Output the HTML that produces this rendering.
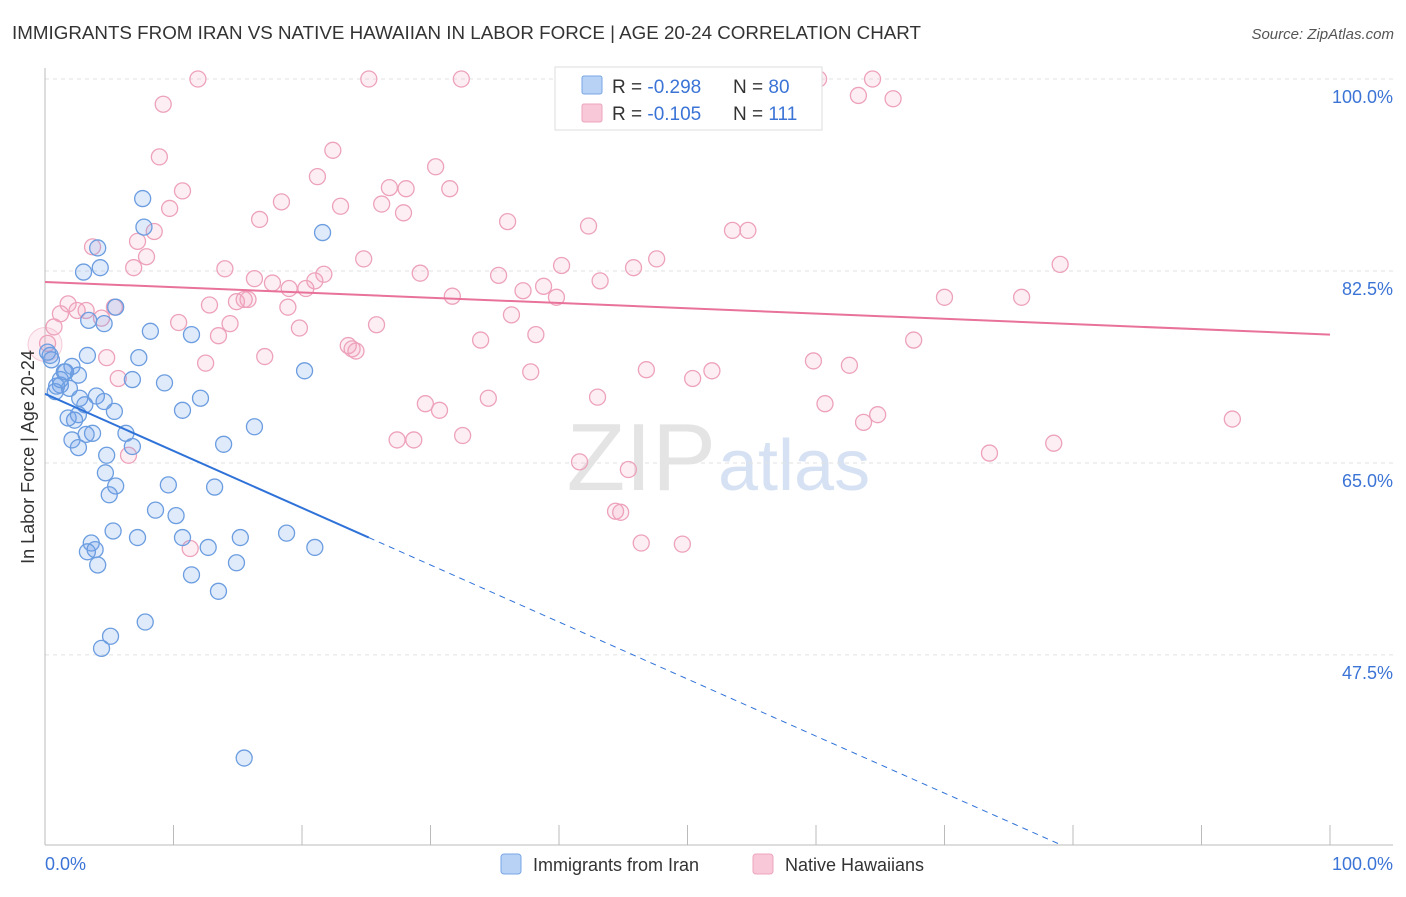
<!DOCTYPE html>
<html><head><meta charset="utf-8"><style>
body{margin:0;background:#fff;font-family:"Liberation Sans",sans-serif;}
svg text{font-family:"Liberation Sans",sans-serif;}
</style></head><body>
<svg id="chart" width="1406" height="892" xmlns="http://www.w3.org/2000/svg">
<text x="12" y="39" font-size="18" fill="#333" textLength="909" lengthAdjust="spacingAndGlyphs">IMMIGRANTS FROM IRAN VS NATIVE HAWAIIAN IN LABOR FORCE | AGE 20-24 CORRELATION CHART</text>
<text x="1394" y="39" font-size="15" fill="#555" font-style="italic" text-anchor="end">Source: ZipAtlas.com</text>
<text x="716" y="490" font-size="96" fill="#e4e4e4" text-anchor="end" font-family="Liberation Serif">ZIP</text>
<text x="718" y="490" font-size="72" fill="#d6e2f3">atlas</text>
<g id="grid"></g>
<g id="axes"></g>
<g id="pts"></g>
<g id="lines"></g>
<text transform="translate(34,457) rotate(-90)" font-size="18" fill="#333" text-anchor="middle">In Labor Force | Age 20-24</text>
<text x="45" y="870" font-size="18" fill="#3b74d6">0.0%</text>
<text x="1393" y="870" font-size="18" fill="#3b74d6" text-anchor="end">100.0%</text>
<g>
<rect x="555" y="67" width="267" height="63" fill="#fff" stroke="#ddd"/>
<rect x="582" y="76" width="20" height="18" fill="#b8d2f5" stroke="#7aa6e6" rx="2"/>
<rect x="582" y="104" width="20" height="18" fill="#f8c8d8" stroke="#eea4bc" rx="2"/>
<text x="612" y="93" font-size="19" fill="#333">R = <tspan fill="#3b74d6">-0.298</tspan><tspan x="733">N = </tspan><tspan fill="#3b74d6">80</tspan></text>
<text x="612" y="120" font-size="19" fill="#333">R = <tspan fill="#3b74d6">-0.105</tspan><tspan x="733">N = </tspan><tspan fill="#3b74d6">111</tspan></text>
</g>
<g>
<rect x="501" y="854" width="20" height="20" fill="#b8d2f5" stroke="#7aa6e6" rx="3"/>
<text x="533" y="871" font-size="18" fill="#333">Immigrants from Iran</text>
<rect x="753" y="854" width="20" height="20" fill="#f8c8d8" stroke="#eea4bc" rx="3"/>
<text x="785" y="871" font-size="18" fill="#333">Native Hawaiians</text>
</g>
</svg>
<script>
const yTicks=[100,82.5,65,47.5];
const yTickLabels=["100.0%","82.5%","65.0%","47.5%"];
const xTicks=[0,10,20,30,40,50,60,70,80,90,100];
const iranX=[7.6,7.7,21.6,4.1,3.0,4.3,5.5,3.4,4.6,8.2,11.4,7.3,3.3,0.4,0.5,0.2,6.8,9.3,20.2,1.5,2.6,1.2,1.9,0.9,0.8,4.0,4.6,3.1,5.4,10.7,12.1,2.6,1.8,2.3,6.3,3.7,3.2,2.1,2.6,6.8,13.9,16.3,4.8,4.7,5.5,5.0,9.6,13.2,8.6,10.2,5.3,7.2,10.7,12.7,15.2,18.8,21.0,3.6,3.3,3.9,4.1,14.9,11.4,13.5,7.8,5.1,4.4,15.5,1.2,2.1,1.6,2.7];
const iranY=[89.1,86.5,86.0,84.6,82.4,82.8,79.2,78.0,77.7,77.0,76.7,74.6,74.8,74.8,74.4,75.1,72.6,72.3,73.4,73.3,73.0,72.1,71.8,72.0,71.5,71.1,70.6,70.3,69.7,69.8,70.9,69.4,69.1,68.9,67.7,67.7,67.6,67.1,66.4,66.5,66.7,68.3,65.7,64.1,62.9,62.1,63.0,62.8,60.7,60.2,58.8,58.2,58.2,57.3,58.2,58.6,57.3,57.7,56.9,57.1,55.7,55.9,54.8,53.3,50.5,49.2,48.1,38.1,72.6,73.8,73.3,70.9];
const hawX=[11.9,25.2,32.4,60.2,64.4,9.2,63.3,66.0,8.9,22.4,30.4,10.7,21.2,26.8,28.1,31.5,9.7,18.4,23.0,26.2,27.9,16.7,36.0,42.3,53.5,54.7,8.5,7.2,3.7,7.9,24.8,14.0,6.9,29.2,40.2,45.8,47.6,79.0,16.3,17.7,21.7,21.0,19.0,20.3,35.3,43.2,38.8,37.2,31.7,39.8,70.0,76.0,1.8,1.2,2.5,3.2,4.4,5.4,12.8,14.9,15.5,15.8,18.9,36.3,10.4,14.4,25.8,19.8,0.7,13.5,0.2,33.9,38.2,67.6,23.6,24.2,23.9,4.8,17.1,12.5,59.8,62.6,46.8,37.8,51.9,50.4,5.7,34.5,43.0,29.6,30.7,60.7,64.8,63.7,92.4,32.5,27.4,28.7,78.5,73.5,6.5,41.6,45.4,44.4,44.8,46.4,49.6,11.3];
const hawY=[100,100,100,100,100,97.7,98.5,98.2,92.9,93.5,92.0,89.8,91.1,90.1,90.0,90.0,88.2,88.8,88.4,88.6,87.8,87.2,87.0,86.6,86.2,86.2,86.1,85.2,84.7,83.8,83.6,82.7,82.8,82.3,83.0,82.8,83.6,83.1,81.8,81.4,82.2,81.6,80.9,80.9,82.1,81.6,81.1,80.7,80.2,80.1,80.1,80.1,79.5,78.6,78.9,78.9,78.2,79.2,79.4,79.7,79.9,79.9,79.2,78.5,77.8,77.7,77.6,77.3,77.4,76.6,75.9,76.2,76.7,76.2,75.7,75.2,75.4,74.6,74.7,74.1,74.3,73.9,73.5,73.3,73.4,72.7,72.7,70.9,71.0,70.4,69.8,70.4,69.4,68.7,69.0,67.5,67.1,67.1,66.8,65.9,65.7,65.1,64.4,60.6,60.5,57.7,57.6,57.2];
const iranTrend=[71.3,-0.52];
const hawTrend=[81.5,-0.048];
const NS="http://www.w3.org/2000/svg";
const X=v=>45+v*12.85, Y=v=>79+(100-v)*10.97;
function mk(tag,attrs,parent){const e=document.createElementNS(NS,tag);for(const k in attrs)e.setAttribute(k,attrs[k]);document.getElementById(parent).appendChild(e);return e;}
yTicks.forEach((t,i)=>{
 const g=mk('line',{x1:45,x2:1393,y1:Y(t),y2:Y(t),stroke:'#e2e2e2','stroke-dasharray':'4,4'},'grid');
 
 
 const l=mk('text',{x:1393,y:Y(t)+24,'font-size':18,fill:'#3b74d6','text-anchor':'end'},'grid');
 l.textContent=yTickLabels[i];
 
 
});
const ax=mk('line',{x1:45,x2:45,y1:68,y2:845,stroke:'#bbb'},'axes');


const bx=mk('line',{x1:45,x2:1393,y1:845,y2:845,stroke:'#bbb'},'axes');


xTicks.forEach(t=>{
 const k=mk('line',{x1:X(t),x2:X(t),y1:825,y2:845,stroke:'#bbb'},'axes');
 
 
});
const big=mk('circle',{cx:X(0),cy:Y(75.8),r:17,fill:'rgba(240,150,180,0.15)',stroke:'rgba(236,160,184,0.5)'},'pts');


hawX.forEach((v,i)=>{
 const c=mk('circle',{cx:X(v),cy:Y(hawY[i]),r:8,fill:'rgba(244,160,188,0.18)',stroke:'#eda2ba','stroke-width':1.3},'pts');
 
 
});
iranX.forEach((v,i)=>{
 const c=mk('circle',{cx:X(v),cy:Y(iranY[i]),r:8,fill:'rgba(110,160,230,0.22)',stroke:'#6b9de0','stroke-width':1.3},'pts');
 
 
});
const ir=x=>iranTrend[0]+iranTrend[1]*x;
const s1=mk('line',{x1:X(0),y1:Y(ir(0)),x2:X(25.2),y2:Y(ir(25.2)),stroke:'#2f72d8','stroke-width':2},'lines');


const xEnd=(30.3-iranTrend[0])/iranTrend[1];
const s2=mk('line',{x1:X(25.2),y1:Y(ir(25.2)),x2:X(xEnd),y2:Y(ir(xEnd)),stroke:'#2f72d8','stroke-width':1,'stroke-dasharray':'6,5'},'lines');


const hw=x=>hawTrend[0]+hawTrend[1]*x;
const s3=mk('line',{x1:X(0),y1:Y(hw(0)),x2:X(100),y2:Y(hw(100)),stroke:'#e8729a','stroke-width':2},'lines');


</script>
</body></html>
